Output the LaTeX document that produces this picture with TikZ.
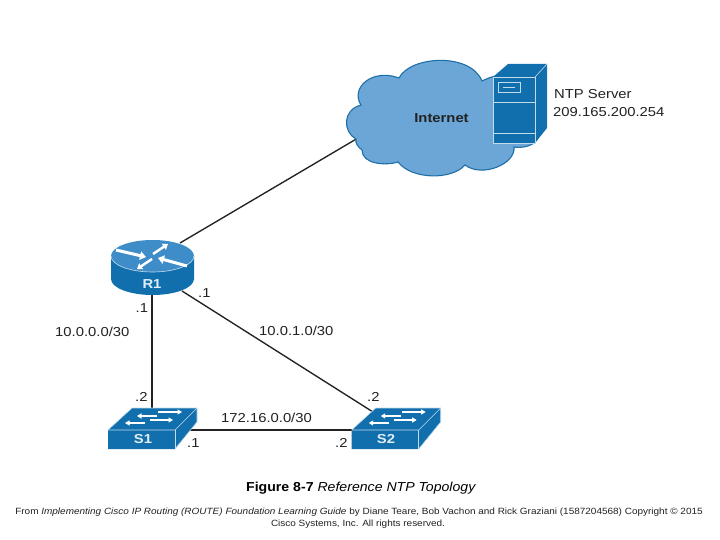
\documentclass[tikz,border=0pt]{standalone}
\usepackage{fontspec}
\usetikzlibrary{arrows.meta}
\setmainfont{Liberation Sans}
\newfontfamily\wide[FakeStretch=1.14]{Liberation Sans}
\newfontfamily\capfont[FakeStretch=1.085]{Liberation Sans}
\newfontfamily\srcfont[FakeStretch=1.103]{Liberation Sans}
\definecolor{cisco}{HTML}{116FAE}
\definecolor{ciscolight}{HTML}{3F8DC8}
\definecolor{cloudfill}{HTML}{6BA6D6}
\definecolor{cloudedge}{HTML}{1F6FA8}
\definecolor{ink}{HTML}{222222}
\tikzset{
  link/.style={draw=ink,line width=1.35pt},
  devedge/.style={draw=white!75!cisco,line width=0.6pt},
  whitearrow/.style={draw=white,line width=1.4pt,-{Triangle[length=4.5pt,width=5pt]}},
  midarrow/.style={draw=white,line width=2.4pt,-{Triangle[length=5pt,width=7pt]}},
  bigarrow/.style={draw=white,line width=3pt,-{Triangle[length=6pt,width=8.5pt]}},
  lbl/.style={font=\wide\fontsize{13}{13}\selectfont,text=ink,inner sep=0pt,anchor=west},
  devlabel/.style={font=\wide\bfseries\fontsize{13}{13}\selectfont,text=white!88!cisco,inner sep=0pt},
}
\newcommand{\switchbody}{%
  \fill[cisco] (108,430) -- (132,408) -- (197,408) -- (197,422) -- (175,449) -- (108,449) -- cycle;
  \draw[devedge] (108,430) -- (132,408) -- (197,408) -- (197,422) -- (175,449);
  \draw[devedge] (108,430) -- (175,430) -- (197,408);
  \draw[devedge] (175,430) -- (175,449);
  \draw[whitearrow] (158,412) -- (182,412);
  \draw[whitearrow] (157,416) -- (137,416);
  \draw[whitearrow] (150,420) -- (173,420);
  \draw[whitearrow] (145,423) -- (125,423);
}
\begin{document}
\begin{tikzpicture}[x=1pt,y=-1pt]
\useasboundingbox (0,0) rectangle (720,540);
\fill[white] (0,0) rectangle (720,540);
% anchors
\coordinate (cloudport) at (358,138);
\coordinate (r1up) at (180,243);
\coordinate (r1down) at (152,293);
\coordinate (r1right) at (182,291);
\coordinate (s1top) at (152,410);
\coordinate (s1right) at (190,430);
\coordinate (s2left) at (355,430);
\coordinate (s2top) at (373,412);
% links
\draw[link] (cloudport) -- (r1up);
\draw[link] (r1down) -- (s1top);
\draw[link] (r1right) -- (s2top);
\draw[link] (s1right) -- (s2left);
% cloud
\draw[fill=cloudfill,draw=cloudedge,line width=1.1pt]
  (356,139) .. controls (343,132) and (342,110) .. (361,105)
  .. controls (350,88) and (372,68) .. (399,78)
  .. controls (410,56) and (470,52) .. (482,81)
  .. controls (500,72) and (520,72) .. (525,85)
  .. controls (548,92) and (550,125) .. (535,142)
  .. controls (530,147) and (520,148) .. (514,147)
  .. controls (516,164) and (482,178) .. (465,165)
  .. controls (452,180) and (412,180) .. (398,162)
  .. controls (385,166) and (362,164) .. (362,150)
  .. controls (358,147) and (355,143) .. (356,139) -- cycle;
\node[inner sep=0pt,font=\wide\bfseries\fontsize{13}{13}\selectfont,text=ink] (internet) at (441.5,118) {Internet};
% server
\fill[cisco] (493,77) -- (508,64) -- (547,64) -- (547,128) -- (535,143) -- (493,143) -- cycle;
\draw[devedge] (493,77) -- (535,77) -- (535,143) -- (493,143) -- cycle;
\draw[devedge] (535,77) -- (547,64);
\draw[devedge] (493,102) -- (535,102);
\draw[devedge] (493,133) -- (535,133);
\draw[devedge] (498,82) rectangle (520,92);
\draw[devedge] (503,87) -- (515,87);
\node[lbl] (ntpname) at (554,94) {NTP Server};
\node[lbl] (ntpaddr) at (553,112) {209.165.200.254};
% router
\fill[cisco] (111,256) -- (111,279) arc[start angle=180,end angle=0,x radius=41.5,y radius=16] -- (194,256) -- cycle;
\fill[ciscolight] (152.5,256) ellipse[x radius=41.5,y radius=16];
\draw[devedge] (111,256) arc[start angle=180,end angle=0,x radius=41.5,y radius=16];
\draw[bigarrow] (116,250) -- (146,257);
\draw[midarrow] (153,254) -- (168,244);
\draw[midarrow] (152,259) -- (137,269);
\draw[bigarrow] (187,266) -- (158,258);
\node[devlabel] (R1) at (152,284) {R1};
% switches
\switchbody
\node[devlabel] (S1) at (143,439) {S1};
\begin{scope}[shift={(243.7,0)}]
\switchbody
\end{scope}
\node[devlabel] (S2) at (386,439) {S2};
% labels
\node[lbl] (a1) at (135.5,308) {.1};
\node[lbl] (a2) at (198,293) {.1};
\node[lbl] (a3) at (55,332) {10.0.0.0/30};
\node[lbl] (a4) at (259,331) {10.0.1.0/30};
\node[lbl] (a5) at (135,397) {.2};
\node[lbl] (a6) at (367,397) {.2};
\node[lbl] (a7) at (221,418) {172.16.0.0/30};
\node[lbl] (a8) at (187,443) {.1};
\node[lbl] (a9) at (335,443) {.2};
% caption
\node[inner sep=0pt,anchor=west,text=black,font=\capfont\fontsize{13}{13}\selectfont] (cap) at (246,488) {\textbf{Figure 8-7} \textit{Reference NTP Topology}};
\node[inner sep=0pt,text=ink,font=\srcfont\fontsize{9.05}{9}\selectfont] (src1) at (359,512) {From \textit{Implementing Cisco IP Routing (ROUTE) Foundation Learning Guide} by Diane Teare, Bob Vachon and Rick Graziani (1587204568) Copyright © 2015};
\node[inner sep=0pt,text=ink,font=\srcfont\fontsize{9.05}{9}\selectfont] (src2) at (358,524) {Cisco Systems, Inc. All rights reserved.};
\end{tikzpicture}
\end{document}
